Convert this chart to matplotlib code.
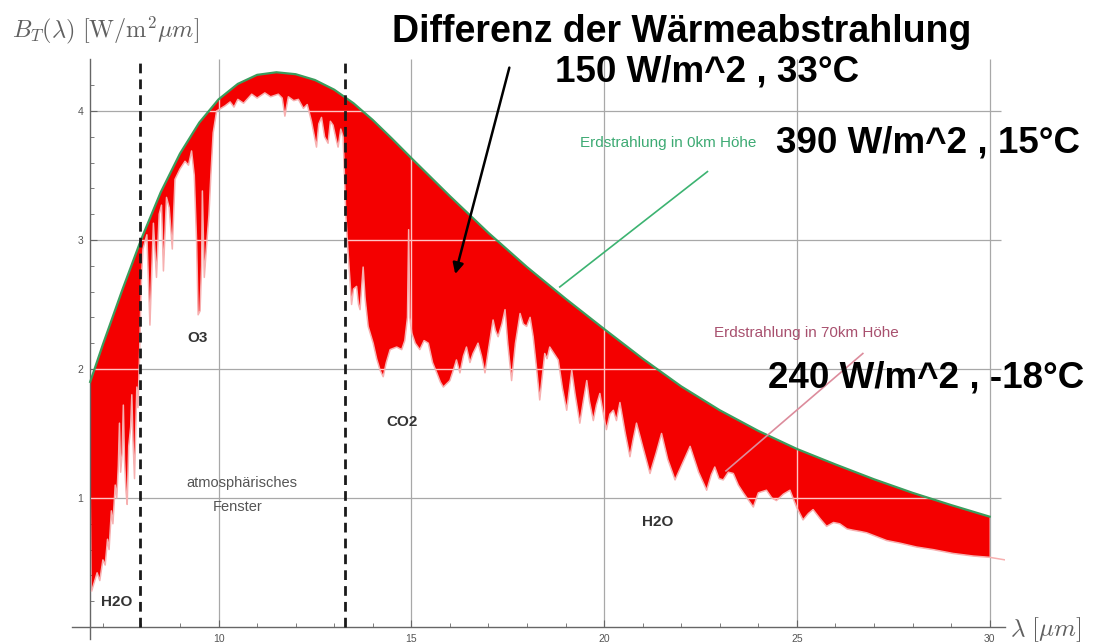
import matplotlib.pyplot as plt
import numpy as np

plt.rcParams['font.family'] = ['Liberation Sans', 'DejaVu Sans']
plt.rcParams['mathtext.fontset'] = 'cm'

# Erdstrahlung in 0 km Hoehe (obere, glatte Kurve)
wl_ground = [6.67, 7.0, 7.5, 8.0, 8.5, 9.0, 9.5, 10.0, 10.5, 11.0, 11.5, 12.0,
             12.5, 13.0, 13.5, 14.0, 14.5, 15.0, 16.0, 17.0, 18.0, 19.0, 20.0,
             21.0, 22.0, 23.0, 24.0, 25.0, 26.0, 27.0, 28.0, 29.0, 30.0]
b_ground = [1.90, 2.19, 2.61, 3.01, 3.37, 3.67, 3.91, 4.09, 4.21, 4.28, 4.30, 4.285,
            4.24, 4.165, 4.06, 3.93, 3.785, 3.635, 3.34, 3.055, 2.79, 2.545, 2.31,
            2.08, 1.865, 1.68, 1.52, 1.38, 1.26, 1.145, 1.04, 0.945, 0.855]

# Erdstrahlung in 70 km Hoehe (untere, zackige Kurve)
wl_toa = [6.71, 6.85, 6.92, 7.00, 7.06, 7.12, 7.16, 7.22, 7.26, 7.32, 7.36, 7.40,
          7.43, 7.46, 7.50, 7.53, 7.56, 7.60, 7.63, 7.67, 7.72, 7.75, 7.78, 7.82,
          7.85, 7.88, 7.91, 7.95, 8.00, 8.04, 8.14,
          8.22, 8.31, 8.39, 8.46, 8.52, 8.57, 8.65, 8.72, 8.80, 8.87, 9.00, 9.13,
          9.22, 9.30, 9.37, 9.43, 9.47, 9.52, 9.56, 9.58, 9.63, 9.70, 9.75, 9.80,
          9.86, 9.95, 10.17, 10.30, 10.40, 10.50, 10.65, 10.86, 11.0, 11.2, 11.35,
          11.55, 11.65, 11.72, 11.81, 11.95, 12.07, 12.2, 12.3, 12.41, 12.54, 12.60,
          12.67, 12.75, 12.84, 12.90, 12.97, 13.05, 13.10, 13.17, 13.23, 13.30,
          13.36, 13.45, 13.50, 13.58, 13.63, 13.67, 13.75, 13.80, 13.88, 14.01,
          14.10, 14.19, 14.27, 14.35, 14.45, 14.62, 14.75, 14.83, 14.90, 14.93,
          14.96, 15.01, 15.10, 15.22, 15.33, 15.44, 15.55, 15.66, 15.75, 15.83,
          16.0, 16.10, 16.17, 16.26, 16.35, 16.43, 16.52, 16.60, 16.73, 16.82,
          16.91, 17.0, 17.12, 17.18, 17.25, 17.35, 17.43, 17.50, 17.60, 17.70,
          17.82, 17.90, 17.99, 18.08, 18.16, 18.25, 18.33, 18.40, 18.46, 18.52,
          18.59, 18.70, 18.81, 18.92, 19.03, 19.10, 19.16, 19.25, 19.37, 19.46,
          19.55, 19.62, 19.72, 19.80, 19.89, 19.98, 20.06, 20.15, 20.24, 20.32,
          20.41, 20.55, 20.67, 20.75, 20.84, 21.0, 21.19, 21.35, 21.49, 21.65,
          21.84, 22.05, 22.23, 22.45, 22.66, 22.78, 22.87, 22.98, 23.09, 23.22,
          23.35, 23.48, 23.61, 23.75, 23.87, 24.0, 24.21, 24.35, 24.47, 24.65,
          24.82, 24.99, 25.16, 25.30, 25.42, 25.60, 25.77, 25.95, 26.11, 26.30,
          26.46, 26.65, 26.81, 27.07, 27.33, 27.67, 28.1, 28.53, 29.05, 29.57,
          30.0, 30.4]
b_toa = [0.28, 0.42, 0.36, 0.52, 0.48, 0.68, 0.60, 0.90, 0.80, 1.10, 1.00, 1.25,
         1.58, 1.20, 1.35, 1.72, 1.30, 1.05, 0.95, 1.40, 1.55, 1.80, 1.45, 1.15,
         1.50, 1.86, 1.70, 2.10, 2.70, 2.93, 3.04,
         2.34, 3.13, 2.71, 3.20, 3.27, 2.76, 3.33, 3.25, 2.93, 3.47, 3.55, 3.61,
         3.58, 3.69, 3.50, 2.99, 2.42, 2.45, 2.80, 3.38, 2.71, 3.00, 3.19, 3.50,
         3.83, 4.00, 4.04, 4.07, 4.03, 4.09, 4.06, 4.13, 4.10, 4.14, 4.11,
         4.13, 4.10, 3.96, 4.11, 4.08, 4.09, 4.02, 4.05, 3.92, 3.72, 3.90,
         3.95, 3.80, 3.75, 3.92, 3.89, 3.78, 3.72, 3.86, 3.80, 3.20,
         2.90, 2.50, 2.62, 2.64, 2.50, 2.46, 2.79, 2.55, 2.33, 2.20,
         2.08, 1.99, 1.94, 2.05, 2.15, 2.17, 2.15, 2.22, 2.40, 3.08,
         2.40, 2.28, 2.20, 2.15, 2.22, 2.20, 2.05, 1.97, 1.90, 1.86,
         1.91, 2.00, 2.07, 1.97, 2.10, 2.17, 2.05, 2.12, 2.20, 2.10,
         1.97, 2.15, 2.38, 2.30, 2.25, 2.35, 2.46, 2.20, 1.91, 2.20,
         2.43, 2.35, 2.33, 2.40, 2.25, 2.00, 1.76, 1.95, 2.12, 2.08,
         2.17, 2.12, 2.07, 1.85, 1.68, 1.85, 1.99, 1.80, 1.58, 1.75,
         1.91, 1.75, 1.60, 1.72, 1.81, 1.65, 1.53, 1.65, 1.68, 1.60,
         1.74, 1.50, 1.32, 1.45, 1.58, 1.40, 1.19, 1.35, 1.50, 1.30,
         1.14, 1.28, 1.40, 1.20, 1.06, 1.18, 1.24, 1.15, 1.14, 1.20,
         1.19, 1.10, 1.04, 0.98, 0.93, 1.04, 1.06, 1.00, 0.98, 1.03,
         1.06, 0.93, 0.83, 0.88, 0.91, 0.84, 0.78, 0.81, 0.80, 0.76,
         0.75, 0.74, 0.73, 0.70, 0.67, 0.65, 0.62, 0.60, 0.57, 0.55,
         0.54, 0.52]

x_ticks = [10, 15, 20, 25, 30]
y_ticks = [1, 2, 3, 4]
window_edges = [7.97, 13.27]   # atmosphaerisches Fenster

fig = plt.figure(figsize=(10.95, 6.44), dpi=100)
ax = fig.add_axes([0.0658, 0.0084, 0.8521, 0.8994])
ax.set_xlim(6.2, 30.4)
ax.set_ylim(-0.09, 4.4)

# rote Flaeche zwischen beiden Kurven
toa_x = [x for x in wl_toa if x <= 30.0]
toa_y = b_toa[:len(toa_x)]
patch = ax.fill(wl_ground + toa_x[::-1], b_ground + toa_y[::-1],
                color='#f40000', lw=0, zorder=2)[0]

# Gitter, in der roten Flaeche hell
ax.hlines(y_ticks, 6.67, 30.3, colors='#a8a8a8', lw=0.9, zorder=1)
ax.vlines(x_ticks, 0, 4.4, colors='#a8a8a8', lw=0.9, zorder=1)
for g in (ax.hlines(y_ticks, 6.67, 30.3, colors='#ffc4c4', lw=1.0, zorder=3),
          ax.vlines(x_ticks, 0, 4.4, colors='#ffc4c4', lw=1.0, zorder=3)):
    g.set_clip_path(patch)

ax.plot(wl_toa, b_toa, color='#f7b0b0', lw=1.1, zorder=4)
ax.plot(wl_ground, b_ground, color='#3a9d5d', lw=1.6, zorder=5)
ax.vlines(window_edges, 0, 4.4, colors='#1a1a1a', lw=2.0,
          linestyles=[(0, (3.5, 2.2))], zorder=6)

# Hinweislinien und Pfeil
ax.plot([18.85, 22.68], [2.636, 3.53], color='#3cb371', lw=1.2, zorder=6)
ax.plot([23.16, 26.71], [1.21, 2.12], color='#dc8c9c', lw=1.2, zorder=6)
ax.annotate('', xy=(16.12, 2.715), xytext=(17.56, 4.357), zorder=7,
            arrowprops=dict(arrowstyle='-|>', color='black', lw=1.8, mutation_scale=16))

for s in ['top', 'right']:
    ax.spines[s].set_visible(False)
ax.spines['left'].set_position(('data', 6.67))
ax.spines['bottom'].set_position(('data', 0))
for s in ['left', 'bottom']:
    ax.spines[s].set_color('#666666')
    ax.spines[s].set_linewidth(1.0)

ax.set_xticks(x_ticks)
ax.set_xticks(np.arange(7, 31), minor=True)
ax.set_yticks(y_ticks)
ax.set_yticks(np.arange(0.2, 4.4, 0.2), minor=True)
ax.tick_params(which='major', direction='in', length=5, width=0.8, colors='#666666',
               labelsize=7.5, labelcolor='#555555', pad=5)
ax.tick_params(which='minor', direction='in', length=3, width=0.6, colors='#666666')

fig.text(0.011, 1 - 30 / 644, r'$B_T(\lambda)\ [\mathrm{W/m^2}\mu m]$', fontsize=17.5,
         color='#606060', va='center', ha='left')
fig.text(1010 / 1095, 1 - 630 / 644, r'$\lambda\ [\mu m]$', fontsize=18,
         color='#606060', va='center', ha='left')


def txt(px, py, s, **kw):
    fig.text(px / 1095, 1 - py / 644, s, ha='center', va='center', **kw)


txt(681.5, 32, 'Differenz der Wärmeabstrahlung', fontsize=27, fontweight='bold')
txt(707.5, 72, '150 W/m^2 , 33°C', fontsize=26.5, fontweight='bold')
txt(927.5, 143, '390 W/m^2 , 15°C', fontsize=26.5, fontweight='bold')
txt(926.5, 378, '240 W/m^2 , -18°C', fontsize=26.5, fontweight='bold')
txt(668, 143, 'Erdstrahlung in 0km Höhe', fontsize=11, color='#3daa73')
txt(806, 333, 'Erdstrahlung in 70km Höhe', fontsize=11, color='#a8506e')
txt(198, 338, 'O3', fontsize=11, fontweight='bold', color='#333333')
txt(402, 422, 'CO2', fontsize=11, fontweight='bold', color='#333333')
txt(658, 522, 'H2O', fontsize=11, fontweight='bold', color='#333333')
txt(117, 602, 'H2O', fontsize=11, fontweight='bold', color='#333333')
txt(242, 483, 'atmosphärisches', fontsize=10.5, color='#555555')
txt(238, 507, 'Fenster', fontsize=10.5, color='#555555')

fig.savefig('out.png', dpi=100)
